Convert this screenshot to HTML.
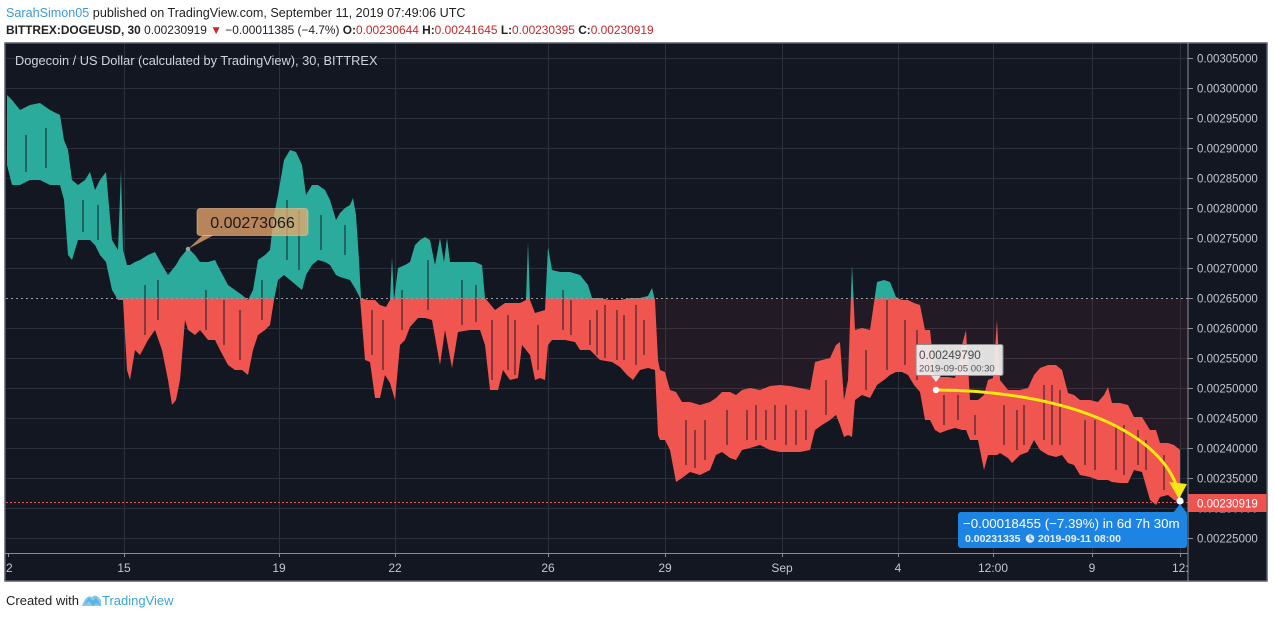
<!DOCTYPE html>
<html><head><meta charset="utf-8">
<style>
html,body{margin:0;padding:0;background:#fff;}
body{width:1274px;height:618px;overflow:hidden;}
svg{display:block;}
text{font-family:"Liberation Sans",sans-serif;}
</style></head>
<body>
<svg width="1274" height="618" viewBox="0 0 1274 618" xmlns="http://www.w3.org/2000/svg">
<defs>
  <clipPath id="plot"><rect x="6" y="44" width="1182" height="509"/></clipPath>
  <clipPath id="above"><rect x="6" y="44" width="1182" height="254.5"/></clipPath>
  <clipPath id="below"><rect x="6" y="298.5" width="1182" height="255"/></clipPath>
  <clipPath id="taxis"><rect x="6" y="553" width="1182" height="28"/></clipPath>
  <path id="band" d="M7 95 L12 100 L20 110 L30 105 L40 103 L50 110 L60 115 L64 140 L68 150 L72 180 L78 185 L85 180 L90 172 L95 190 L100 180 L106 172 L112 240 L118 250 L121 170 L123 250 L127 265 L130 265 L135 262 L140 260 L148 255 L155 252 L162 265 L168 275 L172 270 L176 265 L180 258 L185 252 L188 248 L195 255 L200 262 L208 262 L215 260 L220 270 L228 285 L235 290 L242 295 L248 300 L253 290 L258 260 L265 255 L270 250 L274 215 L278 195 L284 160 L290 150 L296 152 L302 165 L306 195 L312 185 L318 185 L325 190 L330 200 L336 220 L340 213 L345 208 L350 205 L353 198 L356 215 L359 260 L361 298 L368 300 L375 300 L380 305 L386 307 L390 300 L392 257 L394 300 L398 268 L405 265 L410 262 L415 245 L420 240 L425 237 L430 240 L435 265 L440 238 L444 262 L447 238 L450 262 L455 262 L465 262 L475 262 L482 265 L485 298 L495 310 L505 303 L515 303 L520 303 L526 300 L528 242 L530 300 L535 313 L545 310 L548 247 L552 270 L560 272 L570 272 L580 275 L588 285 L592 298 L600 298 L610 300 L620 300 L630 298 L640 298 L648 296 L652 288 L655 300 L658 360 L660 370 L665 372 L670 390 L676 392 L682 402 L690 402 L700 405 L710 402 L716 398 L722 392 L730 392 L736 395 L742 390 L750 388 L760 390 L770 386 L780 385 L790 386 L800 388 L810 390 L815 362 L822 360 L830 358 L836 345 L840 342 L844 400 L848 380 L852 265 L855 330 L862 328 L870 330 L877 282 L884 280 L890 282 L896 297 L902 300 L908 300 L914 303 L920 305 L925 330 L930 330 L935 377 L940 377 L948 377 L955 378 L962 345 L966 330 L970 400 L978 400 L984 395 L988 380 L993 378 L997 320 L1000 380 L1008 390 L1012 390 L1020 390 L1028 388 L1034 375 L1040 368 L1048 365 L1056 365 L1062 370 L1068 393 L1074 395 L1080 400 L1090 400 L1098 402 L1104 395 L1108 387 L1112 403 L1120 403 L1128 405 L1134 417 L1142 417 L1150 430 L1156 430 L1160 443 L1168 443 L1174 445 L1180 450 L1180 502 L1174 500 L1168 495 L1160 497 L1156 505 L1150 500 L1142 472 L1134 470 L1128 483 L1120 483 L1112 482 L1108 480 L1104 480 L1098 480 L1090 477 L1080 475 L1074 465 L1068 463 L1062 455 L1056 457 L1048 455 L1040 450 L1034 440 L1028 452 L1020 455 L1012 463 L1008 458 L1000 453 L997 455 L993 455 L988 455 L984 470 L978 440 L970 440 L966 430 L962 430 L955 428 L948 430 L940 433 L935 430 L930 420 L925 420 L920 392 L914 385 L908 375 L902 372 L896 372 L890 375 L884 380 L877 385 L870 398 L862 395 L855 400 L852 437 L848 435 L844 437 L840 425 L836 415 L830 420 L822 425 L815 430 L810 450 L800 452 L790 452 L780 452 L770 450 L760 445 L750 448 L742 450 L736 460 L730 458 L722 452 L716 455 L710 470 L700 475 L690 472 L682 478 L676 482 L670 450 L665 440 L660 440 L658 435 L655 370 L648 368 L640 370 L633 380 L627 375 L620 367 L612 362 L600 360 L590 350 L580 350 L575 342 L565 340 L552 340 L548 345 L545 380 L540 378 L535 380 L530 355 L522 345 L518 378 L510 380 L503 370 L498 390 L490 390 L485 345 L480 330 L470 330 L458 332 L452 368 L445 330 L440 365 L432 320 L425 318 L418 318 L410 327 L405 340 L400 345 L395 400 L390 383 L385 375 L380 398 L375 398 L370 362 L365 360 L360 298 L356 290 L350 280 L340 277 L336 275 L330 265 L325 262 L318 260 L312 265 L306 275 L302 290 L296 285 L290 280 L284 275 L278 280 L274 300 L270 325 L265 330 L258 335 L253 350 L248 375 L242 370 L235 370 L228 365 L220 350 L215 340 L208 340 L200 330 L195 335 L188 330 L185 320 L180 380 L176 400 L172 405 L168 380 L162 350 L155 330 L148 340 L140 355 L135 350 L130 380 L127 370 L123 300 L121 300 L118 300 L112 290 L106 262 L100 255 L95 245 L90 240 L85 240 L78 240 L72 260 L68 255 L64 200 L60 185 L50 185 L40 180 L30 180 L20 185 L12 185 L7 165 Z"/>
</defs>

<!-- header -->
<text x="6" y="17" font-size="12.6" fill="#222"><tspan fill="#3a9ad9">SarahSimon05</tspan> published on TradingView.com, September 11, 2019 07:49:06 UTC</text>
<text x="6" y="34" font-size="11.9" fill="#222"><tspan font-weight="bold">BITTREX:DOGEUSD, 30</tspan> 0.00230919 <tspan fill="#c62828">▼</tspan> −0.00011385 (−4.7%) <tspan font-weight="bold">O:</tspan><tspan fill="#c62828">0.00230644</tspan> <tspan font-weight="bold">H:</tspan><tspan fill="#c62828">0.00241645</tspan> <tspan font-weight="bold">L:</tspan><tspan fill="#c62828">0.00230395</tspan> <tspan font-weight="bold">C:</tspan><tspan fill="#c62828">0.00230919</tspan></text>

<!-- chart frame -->
<rect x="5" y="43" width="1262" height="538" fill="#131722" stroke="#5a5e6a" stroke-width="1.5"/>

<!-- grid -->
<g stroke="#2c303c" stroke-width="1">
<line x1="6" y1="58.5" x2="1188" y2="58.5"/><line x1="6" y1="88.5" x2="1188" y2="88.5"/><line x1="6" y1="118.5" x2="1188" y2="118.5"/><line x1="6" y1="148.5" x2="1188" y2="148.5"/><line x1="6" y1="178.5" x2="1188" y2="178.5"/><line x1="6" y1="208.5" x2="1188" y2="208.5"/><line x1="6" y1="238.5" x2="1188" y2="238.5"/><line x1="6" y1="268.5" x2="1188" y2="268.5"/><line x1="6" y1="328.5" x2="1188" y2="328.5"/><line x1="6" y1="358.5" x2="1188" y2="358.5"/><line x1="6" y1="388.5" x2="1188" y2="388.5"/><line x1="6" y1="418.5" x2="1188" y2="418.5"/><line x1="6" y1="448.5" x2="1188" y2="448.5"/><line x1="6" y1="478.5" x2="1188" y2="478.5"/><line x1="6" y1="508.5" x2="1188" y2="508.5"/><line x1="6" y1="538.5" x2="1188" y2="538.5"/>
<line x1="124.5" y1="44" x2="124.5" y2="553"/><line x1="279.5" y1="44" x2="279.5" y2="553"/><line x1="395.5" y1="44" x2="395.5" y2="553"/><line x1="548.5" y1="44" x2="548.5" y2="553"/><line x1="665.5" y1="44" x2="665.5" y2="553"/><line x1="782.5" y1="44" x2="782.5" y2="553"/><line x1="898.5" y1="44" x2="898.5" y2="553"/><line x1="993.5" y1="44" x2="993.5" y2="553"/><line x1="1092.5" y1="44" x2="1092.5" y2="553"/><line x1="1180.5" y1="44" x2="1180.5" y2="553"/>
</g>

<!-- red tint (between baseline and band, right part) -->
<path clip-path="url(#below)" fill="rgba(239,83,80,0.07)" d="M652 298.5 L655 300 L658 360 L660 370 L665 372 L670 390 L676 392 L682 402 L690 402 L700 405 L710 402 L716 398 L722 392 L730 392 L736 395 L742 390 L750 388 L760 390 L770 386 L780 385 L790 386 L800 388 L810 390 L815 362 L822 360 L830 358 L836 345 L840 342 L844 400 L848 380 L852 265 L855 330 L862 328 L870 330 L877 282 L884 280 L890 282 L896 297 L902 300 L908 300 L914 303 L920 305 L925 330 L930 330 L935 377 L940 377 L948 377 L955 378 L962 345 L966 330 L970 400 L978 400 L984 395 L988 380 L993 378 L997 320 L1000 380 L1008 390 L1012 390 L1020 390 L1028 388 L1034 375 L1040 368 L1048 365 L1056 365 L1062 370 L1068 393 L1074 395 L1080 400 L1090 400 L1098 402 L1104 395 L1108 387 L1112 403 L1120 403 L1128 405 L1134 417 L1142 417 L1150 430 L1156 430 L1160 443 L1168 443 L1174 445 L1180 450 L1188 450 L1188 298.5 Z"/>

<!-- series -->
<g clip-path="url(#plot)">
  <use href="#band" fill="#2bab9b" clip-path="url(#above)"/>
  <use href="#band" fill="#f0554f" clip-path="url(#below)"/>
  <g stroke="#131722" stroke-width="1.1" opacity="0.85">
    <path d="M26 135 V172 M46 128 V168 M83 200 V232 M98 205 V240 M145 285 V335 M158 280 V320 M206 290 V330 M224 300 V345 M240 310 V360 M262 280 V320 M287 200 V260 M299 210 V270 M321 215 V250 M345 225 V255 M372 310 V355 M383 320 V370 M402 290 V330 M428 260 V310 M462 280 V325 M476 285 V322 M492 320 V380 M508 315 V370 M515 320 V375 M538 325 V370 M563 290 V330 M571 300 V335 M590 320 V345 M597 310 V355 M605 305 V358 M617 310 V360 M624 315 V360 M636 305 V365 M644 320 V355 M686 420 V465 M695 430 V468 M705 420 V460 M727 410 V445 M747 410 V440 M756 405 V440 M766 410 V440 M775 405 V440 M786 405 V445 M796 410 V445 M806 410 V440 M826 380 V415 M866 350 V390 M887 300 V370 M905 320 V365 M917 330 V380 M944 395 V425 M958 395 V420 M975 415 V435 M1004 405 V445 M1017 410 V450 M1024 405 V445 M1044 385 V440 M1052 385 V445 M1060 390 V445 M1085 420 V465 M1095 420 V470 M1116 425 V470 M1124 425 V475 M1138 430 V465 M1146 440 V470 M1164 455 V490"/>
  </g>
</g>

<!-- baseline & last price line -->
<line x1="6" y1="298.5" x2="1188" y2="298.5" stroke="#9a9da6" stroke-width="1" stroke-dasharray="2 3"/>
<line x1="6" y1="502.5" x2="1188" y2="502.5" stroke="#ef5350" stroke-width="1" stroke-dasharray="2 2"/>

<!-- legend title -->
<text x="15" y="65" font-size="12.8" fill="#d1d4dc">Dogecoin / US Dollar (calculated by TradingView), 30, BITTREX</text>

<!-- axes -->
<line x1="1188" y1="43" x2="1188" y2="581" stroke="#8a8d96" stroke-width="1"/>
<line x1="5" y1="553.5" x2="1188" y2="553.5" stroke="#8a8d96" stroke-width="1"/>
<g stroke="#8a8d96" stroke-width="1">
<path d="M1188 58.5h5M1188 88.5h5M1188 118.5h5M1188 148.5h5M1188 178.5h5M1188 208.5h5M1188 238.5h5M1188 268.5h5M1188 298.5h5M1188 328.5h5M1188 358.5h5M1188 388.5h5M1188 418.5h5M1188 448.5h5M1188 478.5h5M1188 508.5h5M1188 538.5h5"/>
<path d="M8.5 553v4M124.5 553v4M279.5 553v4M395.5 553v4M548.5 553v4M665.5 553v4M782.5 553v4M898.5 553v4M993.5 553v4M1092.5 553v4M1180.5 553v4"/>
</g>
<g font-size="11.5" fill="#c3c6ce">
<text x="1197" y="62.5">0.00305000</text><text x="1197" y="92.5">0.00300000</text><text x="1197" y="122.5">0.00295000</text><text x="1197" y="152.5">0.00290000</text><text x="1197" y="182.5">0.00285000</text><text x="1197" y="212.5">0.00280000</text><text x="1197" y="242.5">0.00275000</text><text x="1197" y="272.5">0.00270000</text><text x="1197" y="302.5">0.00265000</text><text x="1197" y="332.5">0.00260000</text><text x="1197" y="362.5">0.00255000</text><text x="1197" y="392.5">0.00250000</text><text x="1197" y="422.5">0.00245000</text><text x="1197" y="452.5">0.00240000</text><text x="1197" y="482.5">0.00235000</text><text x="1197" y="512.5">0.00230000</text><text x="1197" y="542.5">0.00225000</text>
</g>
<g font-size="12" fill="#c3c6ce" text-anchor="middle" clip-path="url(#taxis)">
<text x="6" y="572">12</text><text x="124" y="572">15</text><text x="279" y="572">19</text><text x="395" y="572">22</text><text x="548" y="572">26</text><text x="665" y="572">29</text><text x="782" y="572">Sep</text><text x="898" y="572">4</text><text x="993" y="572">12:00</text><text x="1092" y="572">9</text><text x="1187" y="572">12:00</text>
</g>

<!-- current price label -->
<rect x="1188.5" y="494" width="78" height="18" fill="#ef5350"/>
<text x="1197" y="507.5" font-size="11.5" fill="#fff">0.00230919</text>

<!-- orange callout -->
<path d="M203 235 L188 249 L214 235 Z" fill="rgba(240,170,110,0.75)"/>
<rect x="197" y="208.5" width="111" height="27" rx="3" fill="rgba(240,170,110,0.75)" stroke="rgba(250,200,150,0.5)" stroke-width="1"/>
<text x="252.5" y="228" font-size="16" fill="#1a1a1a" text-anchor="middle">0.00273066</text>
<circle cx="188" cy="249" r="2.2" fill="#9aa0a8"/>

<!-- yellow arrow -->
<path d="M936 390 C1040 390 1150 420 1176 484" fill="none" stroke="#f5e70f" stroke-width="3"/>
<path d="M1169 482 L1187 484 L1179 499 Z" fill="#f5e70f"/>

<!-- gray annotation -->
<rect x="916" y="344.5" width="87" height="31" rx="2" fill="rgba(238,238,238,0.93)" stroke="#8d8d8d" stroke-width="1"/>
<path d="M931 375.5 L936 382 L941 375.5 Z" fill="#e6e6e6"/>
<text x="919" y="359" font-size="11.7" fill="#4a4a4a">0.00249790</text>
<text x="919" y="371.5" font-size="9.6" fill="#555">2019-09-05 00:30</text>
<circle cx="936" cy="390" r="3.2" fill="#ffffff"/>

<!-- blue measure box -->
<path d="M1173 513 L1180 504 L1187 513 Z" fill="#1e84e3"/>
<rect x="958" y="512" width="229" height="36" rx="3" fill="#1e84e3"/>
<text x="963" y="528" font-size="13.3" fill="#fff">−0.00018455 (−7.39%) in 6d 7h 30m</text>
<text x="965" y="542" font-size="10.5" font-weight="bold" fill="#e8f1fb">0.00231335</text>
<circle cx="1030" cy="538.5" r="4.3" fill="#dbe9f8"/>
<path d="M1030 535.5 L1030 538.8 L1032.5 540" stroke="#1e84e3" stroke-width="1.1" fill="none"/>
<text x="1038" y="542" font-size="10.5" font-weight="bold" fill="#e8f1fb">2019-09-11  08:00</text>
<circle cx="1180" cy="501" r="3.6" fill="#ffffff"/>

<!-- footer -->
<text x="6" y="605" font-size="13" fill="#222">Created with</text>
<path d="M83 606 L89 597 L93 601 L96 597 L101 606 L96 603 L93 606 L89 601 Z" fill="#5ab4e2"/>
<path d="M82 606 Q86 594 92 597 Q96 593 101 600 L101 606 Z" fill="#5ab4e2" opacity="0.7"/>
<text x="102" y="605" font-size="13" fill="#3aa5dc">TradingView</text>
</svg>
</body></html>
